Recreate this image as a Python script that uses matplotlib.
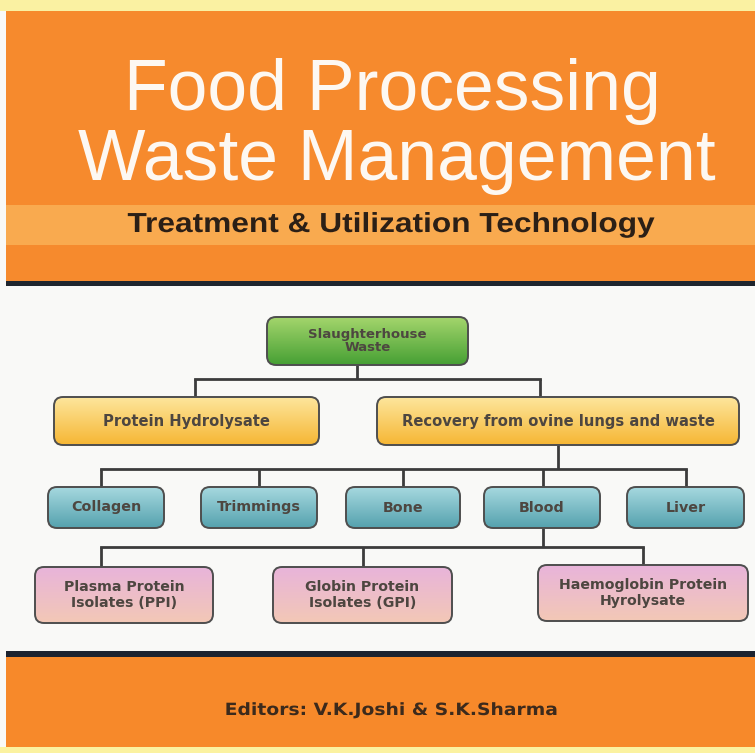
import numpy as np
import matplotlib.pyplot as plt
from matplotlib.patches import FancyBboxPatch, Rectangle
from matplotlib.patheffects import AbstractPathEffect
from matplotlib.transforms import Affine2D
from matplotlib.colors import to_rgb

W, H = 755, 753

## Text content
title_lines = ['Food Processing', 'Waste Management']
subtitle = 'Treatment & Utilization Technology'
editors = 'Editors: V.K.Joshi & S.K.Sharma'

## Tree levels (labels)
root_label = ['Slaughterhouse\nWaste']
level1 = ['Protein Hydrolysate', 'Recovery from ovine lungs and waste']
level2 = ['Collagen', 'Trimmings', 'Bone', 'Blood', 'Liver']
level3 = ['Plasma Protein\nIsolates (PPI)', 'Globin Protein\nIsolates (GPI)',
          'Haemoglobin Protein\nHyrolysate']

# ********* layout (pixels, y down) *********
root_box = [(267, 317, 468, 365)]
l1_box = [(54, 397, 319, 445), (377, 397, 739, 445)]
l2_box = [(48, 487, 164, 528), (201, 487, 317, 528), (346, 487, 460, 528),
          (484, 487, 600, 528), (627, 487, 744, 528)]
l3_box = [(35, 567, 213, 623), (273, 567, 452, 623), (538, 565, 748, 621)]

# (parent x, parent bottom, bus y, child drop xs, child top)
links = [
    (357, 365, 379, [195, 540], 397),
    (558, 445, 469, [101, 259, 403, 543, 686], 487),
    (543, 528, 547, [101, 363, 643], 567),
]

grad = {
    'green': ('#a4d56c', '#46a034'),
    'yellow': ('#fde69c', '#f6b634'),
    'teal': ('#a6d8df', '#55a2ae'),
    'pink': ('#e8b4da', '#f3c8b6'),
}


class Squash(AbstractPathEffect):
    # squash glyphs vertically about the baseline (condensed look)
    def __init__(self, sy):
        super().__init__()
        self.sy = sy

    def draw_path(self, renderer, gc, tpath, affine, rgbFace=None):
        renderer.draw_path(gc, tpath, Affine2D().scale(1, self.sy) + affine, rgbFace)


fig = plt.figure(figsize=(W / 100, H / 100), dpi=100)
fig.patch.set_facecolor('#f9f9f7')
ax = fig.add_axes([0, 0, 1, 1])
ax.axis('off')

## background bands
ax.add_patch(Rectangle((0, 0), W, 11, color='#faf1a2', lw=0))
ax.add_patch(Rectangle((6, 11), W, 271, color='#f68a2d', lw=0))
ax.add_patch(Rectangle((6, 205), W, 40, color='#f9aa4f', lw=0))
ax.add_patch(Rectangle((6, 281), W, 5, color='#1f262e', lw=0))
ax.add_patch(Rectangle((6, 651), W, 6, color='#1c2330', lw=0))
ax.add_patch(Rectangle((6, 657), W, 90, color='#f7892a', lw=0))
ax.add_patch(Rectangle((0, 747), W, 6, color='#fbf2a0', lw=0))

## titles
title_font = ['Liberation Sans', 'DejaVu Sans']
ax.text(392, 110, title_lines[0], ha='center', va='baseline', color='#fdf8f2',
        fontsize=51.5, family=title_font)
ax.text(397, 180, title_lines[1], ha='center', va='baseline', color='#fdf8f2',
        fontsize=51.5, family=title_font)
ax.text(391, 232, subtitle, ha='center', va='baseline', color='#2b1f16',
        fontsize=22.8, family=title_font, fontweight='bold',
        path_effects=[Squash(0.87)])
ax.text(391, 715, editors, ha='center', va='baseline', color='#3c2a1c',
        fontsize=13.5, family='DejaVu Sans', fontweight='bold',
        path_effects=[Squash(0.9)])


def draw_box(b, label, style, fs=10, ls=1.2):
    x0, y0, x1, y1 = b
    patch = FancyBboxPatch((x0, y0), x1 - x0, y1 - y0,
                           boxstyle='round,pad=0,rounding_size=9',
                           fc='none', ec='#4e4e4e', lw=1.4, zorder=3)
    ax.add_patch(patch)
    top, bot = np.array(to_rgb(grad[style][0])), np.array(to_rgb(grad[style][1]))
    t = np.linspace(0, 1, 64)[:, None, None]
    img = top * (1 - t) + bot * t
    im = ax.imshow(img, extent=[x0, x1, y1, y0], origin='upper',
                   aspect='auto', zorder=2)
    im.set_clip_path(patch)
    ax.text((x0 + x1) / 2, (y0 + y1) / 2, label, ha='center', va='center',
            fontsize=fs, color='#4d4640', family='DejaVu Sans',
            fontweight='bold', linespacing=ls, zorder=4)


for px, pb, bus, xs, ct in links:
    ax.plot([px, px], [pb, bus], color='#3c3c3c', lw=2, zorder=1,
            solid_capstyle='butt')
    ax.plot([min(xs), max(xs + [px])], [bus, bus], color='#3c3c3c', lw=2,
            zorder=1, solid_capstyle='projecting')
    for cx in xs:
        ax.plot([cx, cx], [bus, ct], color='#3c3c3c', lw=2, zorder=1,
                solid_capstyle='butt')

for b, lab in zip(root_box, root_label):
    draw_box(b, lab, 'green', fs=9.5, ls=1.0)
for b, lab in zip(l1_box, level1):
    draw_box(b, lab, 'yellow', fs=10.6)
for b, lab in zip(l2_box, level2):
    draw_box(b, lab, 'teal', fs=10.3)
for b, lab in zip(l3_box, level3):
    draw_box(b, lab, 'pink', fs=10.2, ls=1.15)

ax.set_xlim(0, W)
ax.set_ylim(H, 0)

plt.savefig('out.png', dpi=100, facecolor=fig.get_facecolor())
